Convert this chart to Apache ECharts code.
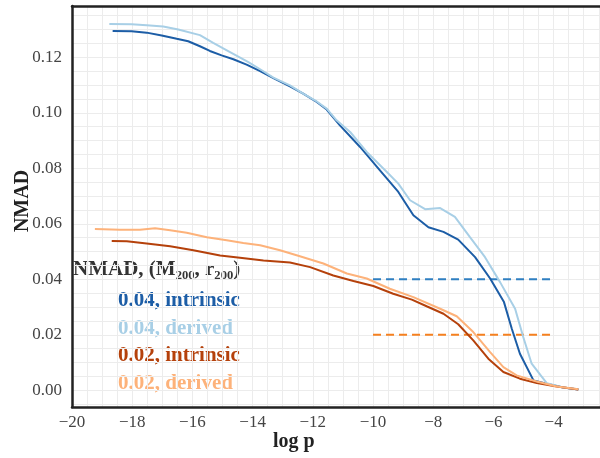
<!DOCTYPE html>
<html>
<head>
<meta charset="utf-8">
<script src="https://cdn.jsdelivr.net/npm/echarts@6/dist/echarts.min.js"></script>
<style>html,body{margin:0;padding:0;background:#fff}#c{width:600px;height:458px}</style>
</head>
<body>
<div id="c"></div>
<script>
// log p values and NMAD values
const intr04X = [-18.65,-18.02,-17.52,-17.02,-16.52,-16.14,-15.75,-15.42,-15.03,-14.64,-14.20,-13.75,-13.31,-12.76,-12.32,-11.87,-11.54,-11.10,-10.43,-9.77,-9.16,-8.66,-8.16,-7.66,-7.17,-6.61,-6.11,-5.65,-5.39,-5.12,-4.67,-4.23,-3.68,-3.18];
const intr04Y = [0.1295,0.1294,0.1289,0.1279,0.1267,0.1258,0.1240,0.1223,0.1207,0.1193,0.1174,0.1150,0.1125,0.1095,0.1069,0.1039,0.1012,0.0955,0.0877,0.0793,0.0715,0.0631,0.0588,0.0571,0.0543,0.0480,0.0403,0.0318,0.0222,0.0132,0.0036,0.0024,0.0010,0.0003];
const der04X = [-18.76,-18.02,-17.52,-16.97,-16.47,-15.75,-15.31,-14.75,-14.14,-13.75,-13.31,-12.76,-12.32,-11.87,-11.54,-11.21,-10.76,-10.21,-9.54,-9.16,-8.77,-8.27,-7.77,-7.28,-6.78,-6.28,-5.78,-5.28,-5.01,-4.73,-4.23,-3.68,-3.18];
const der04Y = [0.1320,0.1319,0.1316,0.1311,0.1300,0.1280,0.1252,0.1219,0.1183,0.1157,0.1127,0.1099,0.1069,0.1041,0.1015,0.0973,0.0931,0.0859,0.0787,0.0745,0.0685,0.0653,0.0657,0.0625,0.0552,0.0480,0.0390,0.0294,0.0192,0.0096,0.0026,0.0010,0.0004];
const intr02X = [-18.68,-18.18,-17.52,-16.74,-15.97,-15.08,-14.42,-13.64,-12.76,-12.09,-11.32,-10.65,-9.99,-9.33,-8.71,-8.22,-7.66,-7.17,-6.67,-6.17,-5.67,-5.12,-4.56,-3.90,-3.18];
const intr02Y = [0.0538,0.0537,0.0529,0.0519,0.0505,0.0486,0.0478,0.0468,0.0461,0.0444,0.0414,0.0394,0.0376,0.0348,0.0327,0.0303,0.0276,0.0238,0.0180,0.0114,0.0066,0.0042,0.0026,0.0014,0.0003];
const der02X = [-19.24,-18.41,-17.74,-17.24,-16.74,-16.19,-15.52,-14.86,-14.31,-13.75,-13.09,-12.43,-11.65,-10.87,-10.21,-9.44,-8.66,-7.77,-7.22,-6.67,-6.11,-5.67,-5.23,-4.56,-3.90,-3.18];
const der02Y = [0.0581,0.0579,0.0579,0.0584,0.0577,0.0568,0.0552,0.0541,0.0531,0.0523,0.0505,0.0483,0.0457,0.0421,0.0403,0.0366,0.0336,0.0294,0.0267,0.0210,0.0138,0.0084,0.0054,0.0032,0.0014,0.0004];
// reference thresholds (dashed)
const threshX = [-10, -4];
const thresh04 = [0.04, 0.04];
const thresh02 = [0.02, 0.02];
// legend labels
const legendTitle = 'NMAD, (M\u2082\u2080\u2080, r\u2082\u2080\u2080)';
const legendLabels = ['0.04, intrinsic', '0.04, derived', '0.02, intrinsic', '0.02, derived'];
const xTicks = [-20,-18,-16,-14,-12,-10,-8,-6,-4];
const yTicks = [0.00,0.02,0.04,0.06,0.08,0.10,0.12];

const zip = (xs, ys) => xs.map((x, i) => [x, ys[i]]);
const colors = ['#1c5da6', '#a8cfe6', '#b5410b', '#fdb27a'];
const SERIF = '"Liberation Serif", "DejaVu Serif", serif';
const gridColor = '#ececec';
const frame = '#222';

const chart = echarts.init(document.getElementById('c'), null, {renderer: 'canvas'});
const mk = (name, data, color) => ({
  type: 'line', name, data, showSymbol: false, symbol: 'none',
  lineStyle: {color, width: 2}, itemStyle: {color}, z: 3, animation: false
});
const fmtX = v => xTicks.includes(Math.round(v*1000)/1000) ? (v < 0 ? '\u2212' + Math.abs(v) : String(v)) : '';
const fmtY = v => {
  const r = Math.round(v*1000)/1000;
  return yTicks.some(t => Math.abs(t - r) < 1e-9) ? r.toFixed(2) : '';
};
chart.setOption({
  animation: false,
  grid: {left: 72, top: 6, right: 0, bottom: 51, containLabel: false},
  xAxis: [{
    type: 'value', min: -20, max: -2.46, interval: 2,
    axisLine: {show: true, onZero: false, lineStyle: {color: frame, width: 2.5}},
    axisTick: {show: false},
    axisLabel: {formatter: fmtX, color: '#444', fontFamily: SERIF, fontSize: 17, margin: 7, showMaxLabel: false},
    splitLine: {show: true, lineStyle: {color: gridColor, width: 1}},
    minorTick: {show: false, splitNumber: 4},
    minorSplitLine: {show: true, lineStyle: {color: gridColor, width: 1}}
  }, {
    type: 'value', position: 'top', min: -20, max: -2.46,
    axisLine: {show: true, onZero: false, lineStyle: {color: frame, width: 2.5}},
    axisTick: {show: false}, axisLabel: {show: false}, splitLine: {show: false}
  }],
  yAxis: {
    type: 'value', min: -0.006, max: 0.1385, splitNumber: 7,
    axisLine: {show: true, onZero: false, lineStyle: {color: frame, width: 2.5}},
    axisTick: {show: false},
    axisLabel: {formatter: fmtY, color: '#444', fontFamily: SERIF, fontSize: 17, margin: 10, showMinLabel: false, showMaxLabel: false},
    splitLine: {show: true, lineStyle: {color: gridColor, width: 1}},
    minorTick: {show: false, splitNumber: 4},
    minorSplitLine: {show: true, lineStyle: {color: gridColor, width: 1}}
  },
  series: [
    mk(legendLabels[0], zip(intr04X, intr04Y), colors[0]),
    mk(legendLabels[1], zip(der04X, der04Y), colors[1]),
    mk(legendLabels[2], zip(intr02X, intr02Y), colors[2]),
    mk(legendLabels[3], zip(der02X, der02Y), colors[3]),
    {type: 'line', data: zip(threshX, thresh04), symbol: 'none', z: 2,
     lineStyle: {color: '#2f7fc1', width: 2, type: [8, 5]}},
    {type: 'line', data: zip(threshX, thresh02), symbol: 'none', z: 2,
     lineStyle: {color: '#f5801f', width: 2, type: [8, 5]}}
  ],
  graphic: [
    {type: 'text', left: 273, top: 432, style: {text: 'log p', fontSize: 20, fontWeight: 'bold', fontFamily: SERIF, fill: '#222'}},
    {type: 'text', x: 23, y: 201, rotation: Math.PI/2,
     style: {text: 'NMAD', fontSize: 20, fontWeight: 'bold', fontFamily: SERIF, fill: '#222', align: 'center', verticalAlign: 'middle'}},
    {type: 'text', left: 73, top: 259, style: {
      text: legendTitle, fontSize: 21, fontWeight: 'bold', fontFamily: SERIF, fill: '#333'
    }},
    ...legendLabels.map((t, i) => ({
      type: 'text', left: 118, top: 290 + i*27.7,
      style: {text: t, fontSize: 21, fontWeight: 'bold', fontFamily: SERIF, fill: colors[i]}
    }))
  ]
});
</script>
</body>
</html>
